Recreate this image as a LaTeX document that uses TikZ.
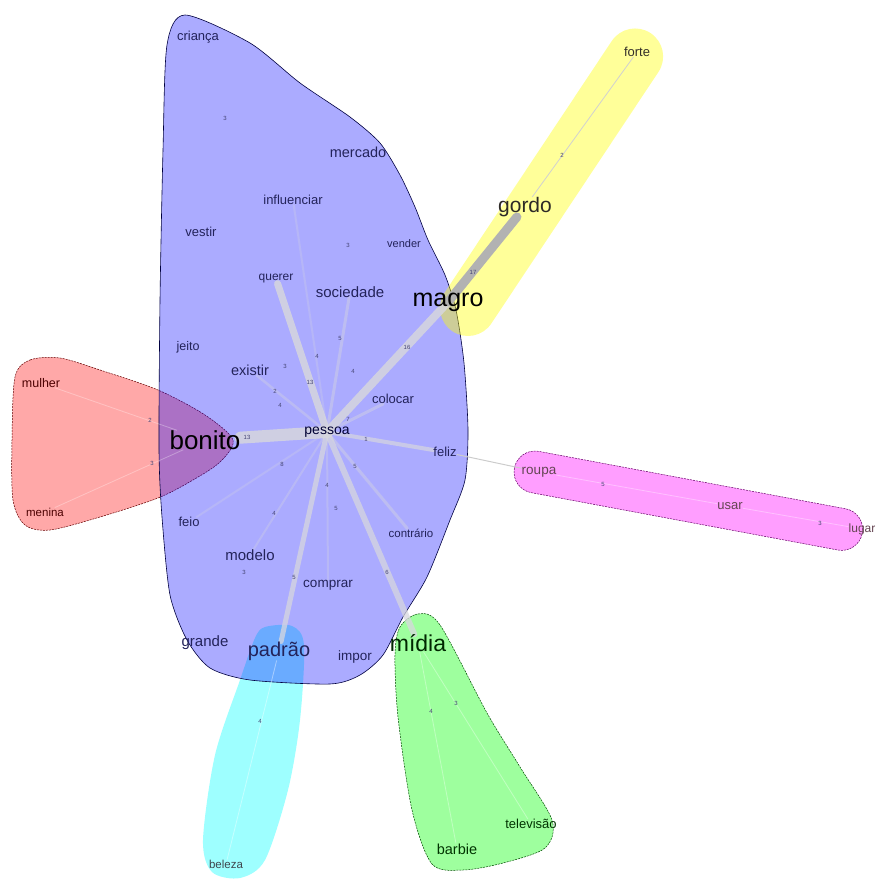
\documentclass[tikz,border=0pt]{standalone}
\usepackage{fontspec}
\setmainfont{Liberation Sans}
\pgfdeclarelayer{hulls}
\pgfdeclarelayer{edges}
\pgfsetlayers{hulls,edges,main}
\definecolor{txtblue}{RGB}{35,35,90}
\definecolor{edgecol}{RGB}{215,215,222}
\definecolor{hred}{RGB}{255,0,0}
\definecolor{hblue}{RGB}{0,0,255}
\definecolor{hyellow}{RGB}{255,255,0}
\definecolor{hcyan}{RGB}{0,255,255}
\definecolor{hgreen}{RGB}{0,255,0}
\definecolor{hmagenta}{RGB}{255,0,255}
\begin{document}
\begin{tikzpicture}[x=1pt,y=-1pt,
  lbl/.style={inner sep=0pt, text=txtblue, font=\fontsize{13}{14}\selectfont},
  elab/.style={inner sep=0pt, text=txtblue!85, font=\fontsize{6}{7}\selectfont},
  edge/.style={draw=edgecol, opacity=0.85, line cap=round},
  thinedge/.style={draw=black!25, line width=0.8pt},
  hullline/.style={line width=0.5pt, dash pattern=on 2pt off 1pt}]
\useasboundingbox (0,0) rectangle (878,882);

% ---------------- hulls ----------------
\begin{pgfonlayer}{hulls}
\fill[hred, fill opacity=0.34] plot[smooth cycle, tension=0.5] coordinates {(15,377) (30,360) (60,358) (100,370) (158,390) (205,415) (233,440) (220,462) (193,480) (158,498) (100,517) (50,530) (25,525) (13,500) (12,440)};
\draw[hullline, draw=hred!40!black] plot[smooth cycle, tension=0.5] coordinates {(15,377) (30,360) (60,358) (100,370) (158,390) (205,415) (233,440) (220,462) (193,480) (158,498) (100,517) (50,530) (25,525) (13,500) (12,440)};
\fill[hcyan, fill opacity=0.38] plot[smooth cycle, tension=0.5] coordinates {(265,627) (292,626) (304,645) (300,720) (288,790) (265,860) (240,878) (212,872) (203,840) (215,755) (240,680) (255,638)};
\fill[hblue, fill opacity=0.33] plot[smooth cycle, tension=0.45] coordinates {(185,15) (250,43) (300,83) (350,117) (380,143) (400,175) (415,207) (428,240) (445,275) (456,310) (464,363) (468,430) (465,480) (450,520) (427,577) (403,617) (383,655) (360,675) (330,684) (250,680) (210,668) (187,640) (170,595) (162,517) (159,450) (160,300) (163,150) (167,45)};
\draw[line width=0.6pt, draw=hblue!25!black] plot[smooth cycle, tension=0.45] coordinates {(185,15) (250,43) (300,83) (350,117) (380,143) (400,175) (415,207) (428,240) (445,275) (456,310) (464,363) (468,430) (465,480) (450,520) (427,577) (403,617) (383,655) (360,675) (330,684) (250,680) (210,668) (187,640) (170,595) (162,517) (159,450) (160,300) (163,150) (167,45)};
\begin{scope}[shift={(468,308)}, rotate=56.4]
\fill[hyellow, fill opacity=0.4, rounded corners=28pt] (-28,-28) rectangle (330,28);
\end{scope}
\fill[hgreen, fill opacity=0.38] plot[smooth cycle, tension=0.5] coordinates {(400,627) (418,614) (440,625) (487,713) (520,767) (552,820) (545,848) (503,863) (463,870) (432,864) (412,810) (398,717) (395,655)};
\draw[hullline, draw=hgreen!30!black] plot[smooth cycle, tension=0.5] coordinates {(400,627) (418,614) (440,625) (487,713) (520,767) (552,820) (545,848) (503,863) (463,870) (432,864) (412,810) (398,717) (395,655)};
\begin{scope}[shift={(535,472)}, rotate=-10.6]
\fill[hmagenta, fill opacity=0.38, rounded corners=21pt] (-21,-21) rectangle (333,21);
\draw[hullline, draw=hmagenta!40!black, rounded corners=21pt] (-21,-21) rectangle (333,21);
\end{scope}
\end{pgfonlayer}

% ---------------- nodes ----------------
\node[lbl] (crianca) at (198,37) {criança};
\node[lbl, font=\fontsize{14.5}{15}\selectfont] (mercado) at (358,152) {mercado};
\node[lbl] (influenciar) at (293,200) {influenciar};
\node[lbl] (vestir) at (201,232) {vestir};
\node[lbl, font=\fontsize{11}{12}\selectfont] (vender) at (404,244) {vender};
\node[lbl, font=\fontsize{12}{13}\selectfont] (querer) at (276,279) {querer};
\node[lbl, font=\fontsize{15}{16}\selectfont] (sociedade) at (350,292) {sociedade};
\node[lbl, text=black, font=\fontsize{25}{26}\selectfont] (magro) at (448,302) {magro};
\node[lbl, text=black!90!olive, font=\fontsize{21}{22}\selectfont] (gordo) at (525,207) {gordo};
\node[lbl, text=black!85!olive, font=\fontsize{13}{14}\selectfont] (forte) at (637,52) {forte};
\node[lbl, font=\fontsize{12.5}{13}\selectfont] (jeito) at (188,347) {jeito};
\node[lbl, font=\fontsize{14.5}{15}\selectfont] (existir) at (250,370) {existir};
\node[lbl] (colocar) at (393,399) {colocar};
\node[lbl, text=black!80!blue, font=\fontsize{14}{15}\selectfont] (pessoa) at (327,432) {pessoa};
\node[lbl, text=black, font=\fontsize{26}{27}\selectfont] (bonito) at (205,440) {bonito};
\node[lbl] (feliz) at (445,452) {feliz};
\node[lbl, text=red!30!black, font=\fontsize{12.5}{13}\selectfont] (mulher) at (41,383) {mulher};
\node[lbl, text=red!30!black, font=\fontsize{11.5}{12}\selectfont] (menina) at (45,512) {menina};
\node[lbl] (feio) at (189,522) {feio};
\node[lbl, font=\fontsize{15}{16}\selectfont] (modelo) at (250,555) {modelo};
\node[lbl, font=\fontsize{13.5}{14}\selectfont] (comprar) at (328,585) {comprar};
\node[lbl, font=\fontsize{11.5}{12}\selectfont] (contrario) at (411,533) {contrário};
\node[lbl, font=\fontsize{15}{16}\selectfont] (grande) at (205,643) {grande};
\node[lbl, font=\fontsize{20}{21}\selectfont] (padrao) at (279,651) {padrão};
\node[lbl, font=\fontsize{13.5}{14}\selectfont] (impor) at (355,657) {impor};
\node[lbl, text=black!85!green, font=\fontsize{23}{24}\selectfont] (midia) at (418,643) {mídia};
\node[lbl, text=magenta!30!black, font=\fontsize{13.5}{14}\selectfont] (roupa) at (539,472) {roupa};
\node[lbl, text=magenta!30!black] (usar) at (730,506) {usar};
\node[lbl, text=magenta!30!black, font=\fontsize{12}{13}\selectfont] (lugar) at (862,529) {lugar};
\node[lbl, text=cyan!20!black, font=\fontsize{11.5}{12}\selectfont] (beleza) at (226,864) {beleza};
\node[lbl, text=green!20!black, font=\fontsize{14.5}{15}\selectfont] (barbie) at (457,849) {barbie};
\node[lbl, text=green!20!black] (televisao) at (531,824) {televisão};

% ---------------- edge labels ----------------
\node[elab] (e1) at (225,118) {3};
\node[elab] (e2) at (348,245) {3};
\node[elab] (e3) at (340,338) {5};
\node[elab] (e4) at (317,356) {4};
\node[elab] (e5) at (285,366) {3};
\node[elab] (e6) at (353,371) {4};
\node[elab] (e7) at (310,382) {13};
\node[elab] (e8) at (275,391) {2};
\node[elab] (e9) at (280,405) {4};
\node[elab] (e10) at (348,419) {7};
\node[elab] (e11) at (247,437) {13};
\node[elab] (e12) at (366,439) {1};
\node[elab] (e13) at (282,464) {8};
\node[elab] (e14) at (355,466) {5};
\node[elab] (e15) at (327,485) {4};
\node[elab] (e16) at (336,508) {5};
\node[elab] (e17) at (274,513) {4};
\node[elab] (e18) at (244,572) {3};
\node[elab] (e19) at (294,577) {5};
\node[elab] (e20) at (387,572) {6};
\node[elab] (e21) at (407,347) {16};
\node[elab] (e22) at (473,272) {17};
\node[elab] (e23) at (562,155) {2};
\node[elab] (e24) at (150,420) {2};
\node[elab] (e25) at (152,463) {3};
\node[elab] (e26) at (603,484) {5};
\node[elab] (e27) at (820,523) {3};
\node[elab] (e28) at (260,721) {4};
\node[elab] (e29) at (431,711) {4};
\node[elab] (e30) at (456,703) {3};

% ---------------- edges ----------------
\begin{pgfonlayer}{edges}
\draw[edge, line width=12pt] (pessoa.center) -- (bonito);
\draw[edge, line width=7pt] (pessoa.center) -- (querer);
\draw[edge, line width=8pt] (pessoa.center) -- (magro.center);
\draw[edge, line width=5pt, opacity=0.75] (pessoa.center) -- (padrao);
\draw[edge, line width=6pt, opacity=0.75] (pessoa.center) -- (midia);
\draw[edge, line width=4pt, opacity=0.7] (pessoa.center) -- (feliz);
\draw[edge, line width=3pt, opacity=0.4] (pessoa.center) -- (sociedade);
\draw[edge, line width=3pt, opacity=0.4] (pessoa.center) -- (colocar);
\draw[edge, line width=2.5pt, opacity=0.35] (pessoa.center) -- (existir);
\draw[edge, line width=3pt, opacity=0.4] (pessoa.center) -- (contrario);
\draw[edge, line width=2pt, opacity=0.3] (pessoa.center) -- (comprar);
\draw[edge, line width=2pt, opacity=0.3] (pessoa.center) -- (modelo);
\draw[edge, line width=2pt, opacity=0.25] (pessoa.center) -- (feio);
\draw[edge, line width=2pt, opacity=0.25] (pessoa.center) -- (influenciar);
\draw[draw=black!30, line width=9pt, line cap=round] (magro.center) -- (gordo);
\draw[thinedge, draw=black!18] (gordo) -- (forte);
\draw[draw=black!20, line width=1pt] (feliz) -- (roupa);
\draw[thinedge, draw=white, opacity=0.35] (roupa) -- (usar);
\draw[thinedge, draw=white, opacity=0.35] (usar) -- (lugar);
\draw[thinedge, draw=white, opacity=0.4] (padrao) -- (beleza);
\draw[thinedge, draw=white, opacity=0.35] (midia) -- (barbie);
\draw[thinedge, draw=white, opacity=0.35] (midia) -- (televisao);
\draw[thinedge, draw=white, opacity=0.3] (bonito) -- (mulher);
\draw[thinedge, draw=white, opacity=0.3] (bonito) -- (menina);
\end{pgfonlayer}
\end{tikzpicture}
\end{document}
